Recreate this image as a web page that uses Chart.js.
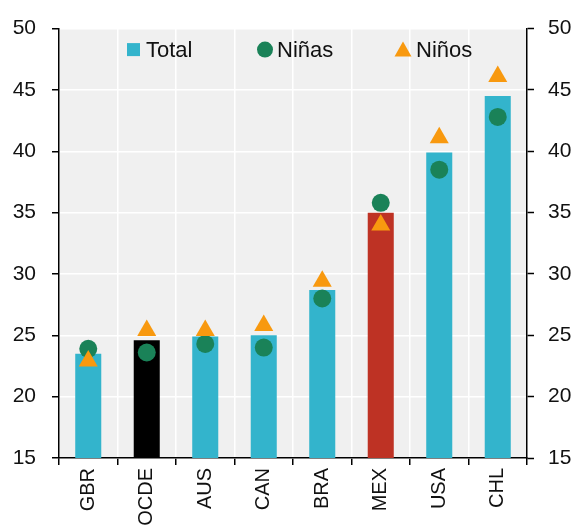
<!DOCTYPE html>
<html>
<head>
<meta charset="utf-8">
<script src="https://cdn.jsdelivr.net/npm/chart.js@4/dist/chart.umd.min.js"></script>
<style>
  body { margin: 0; background: #ffffff; }
</style>
</head>
<body>
<canvas id="chart" width="576" height="528"></canvas>
<script>
const categories = ['GBR', 'OCDE', 'AUS', 'CAN', 'BRA', 'MEX', 'USA', 'CHL'];
const total = [23.5, 24.6, 24.9, 25.0, 28.7, 35.0, 39.9, 44.5];
const ninas = [23.9, 23.6, 24.3, 24.0, 28.0, 35.8, 38.5, 42.8];
const ninos = [22.9, 25.4, 25.4, 25.8, 29.4, 34.0, 41.1, 46.1];
const yTicks = [15, 20, 25, 30, 35, 40, 45, 50];

const CYAN = '#33b4cc';
const GREEN = '#1a8258';
const ORANGE = '#f8990f';
const barColors = categories.map(c => c === 'OCDE' ? '#000000' : (c === 'MEX' ? '#be3224' : CYAN));

// condensed face if present, otherwise plain sans
const probe = document.createElement('canvas').getContext('2d');
probe.font = "30px 'Liberation Sans Narrow', monospace";
const wNarrow = probe.measureText('GBR Total 50').width;
probe.font = '30px monospace';
const wMono = probe.measureText('GBR Total 50').width;
const hasNarrow = Math.abs(wNarrow - wMono) > 1;
const FONT = hasNarrow ? "'Liberation Sans Narrow', 'Liberation Sans', sans-serif" : "'Liberation Sans', Arial, sans-serif";
const SZ = hasNarrow ? { y: 26, x: 25, legend: 25 } : { y: 21, x: 20, legend: 22 };

// grey plot background
const plotBg = {
    id: 'plotBg',
    beforeDraw(chart) {
        const { ctx, chartArea: a } = chart;
        ctx.save();
        ctx.fillStyle = '#f0f0f0';
        ctx.fillRect(a.left, a.top, a.right - a.left, a.bottom - a.top);
        ctx.restore();
    }
};

// legend drawn inside the plot area
const innerLegend = {
    id: 'innerLegend',
    afterDatasetsDraw(chart) {
        const { ctx, chartArea: a } = chart;
        const cy = a.top + 21;
        ctx.save();
        ctx.font = SZ.legend + 'px ' + FONT;
        ctx.textBaseline = 'middle';
        ctx.textAlign = 'left';

        // Total
        ctx.fillStyle = CYAN;
        ctx.fillRect(a.left + 68, cy - 6.5, 13, 13);
        ctx.fillStyle = '#111111';
        ctx.fillText(chart.data.datasets[0].label, a.left + 87, cy + 1);

        // Niñas
        ctx.fillStyle = GREEN;
        ctx.beginPath();
        ctx.arc(a.left + 206, cy, 8, 0, Math.PI * 2);
        ctx.fill();
        ctx.fillStyle = '#111111';
        ctx.fillText(chart.data.datasets[1].label, a.left + 218, cy + 1);

        // Niños
        const tx = a.left + 344;
        ctx.fillStyle = ORANGE;
        ctx.beginPath();
        ctx.moveTo(tx, cy - 8);
        ctx.lineTo(tx + 8.5, cy + 7);
        ctx.lineTo(tx - 8.5, cy + 7);
        ctx.closePath();
        ctx.fill();
        ctx.fillStyle = '#111111';
        ctx.fillText(chart.data.datasets[2].label, a.left + 357, cy + 1);
        ctx.restore();
    }
};

new Chart(document.getElementById('chart').getContext('2d'), {
    data: {
        labels: categories,
        datasets: [
            {
                type: 'bar',
                label: 'Total',
                data: total,
                backgroundColor: barColors,
                borderWidth: 0,
                barPercentage: 0.445,
                categoryPercentage: 1,
                yAxisID: 'y',
                order: 3
            },
            {
                type: 'line',
                label: 'Niñas',
                data: ninas,
                showLine: false,
                pointStyle: 'circle',
                pointRadius: 9,
                pointBackgroundColor: GREEN,
                pointBorderWidth: 0,
                borderColor: GREEN,
                backgroundColor: GREEN,
                yAxisID: 'y',
                order: 2
            },
            {
                type: 'line',
                label: 'Niños',
                data: ninos,
                showLine: false,
                pointStyle: 'triangle',
                pointRadius: 11,
                pointBackgroundColor: ORANGE,
                pointBorderWidth: 0,
                borderColor: ORANGE,
                backgroundColor: ORANGE,
                yAxisID: 'y',
                order: 1
            }
        ]
    },
    options: {
        responsive: false,
        animation: false,
        devicePixelRatio: 1,
        layout: { padding: { top: 28, left: 0, right: 0, bottom: 0 } },
        plugins: {
            legend: { display: false },
            tooltip: { enabled: false }
        },
        scales: {
            x: {
                offset: true,
                grid: {
                    offset: true,
                    color: '#ffffff',
                    lineWidth: 1.5,
                    tickColor: '#000000',
                    tickLength: 7,
                    tickWidth: 1.5
                },
                border: { color: '#000000', width: 1.5 },
                ticks: {
                    minRotation: 90,
                    maxRotation: 90,
                    autoSkip: false,
                    padding: 3,
                    color: '#111111',
                    font: { family: FONT, size: SZ.x }
                },
                afterFit(scale) { scale.height = 70; }
            },
            y: {
                position: 'left',
                min: 15,
                max: 50,
                afterBuildTicks(scale) { scale.ticks = yTicks.map(v => ({ value: v })); },
                grid: {
                    color: '#ffffff',
                    lineWidth: 1.5,
                    tickColor: '#000000',
                    tickLength: 7,
                    tickWidth: 1.5
                },
                border: { color: '#000000', width: 1.5 },
                ticks: {
                    padding: 16,
                    color: '#111111',
                    font: { family: FONT, size: SZ.y }
                },
                afterFit(scale) { scale.width = 59; }
            },
            y2: {
                position: 'right',
                min: 15,
                max: 50,
                afterBuildTicks(scale) { scale.ticks = yTicks.map(v => ({ value: v })); },
                grid: {
                    drawOnChartArea: false,
                    tickColor: '#000000',
                    tickLength: 7,
                    tickWidth: 1.5
                },
                border: { color: '#000000', width: 1.5 },
                ticks: {
                    padding: 14,
                    color: '#111111',
                    font: { family: FONT, size: SZ.y }
                },
                afterFit(scale) { scale.width = 49; }
            }
        }
    },
    plugins: [plotBg, innerLegend]
});
</script>
</body>
</html>
